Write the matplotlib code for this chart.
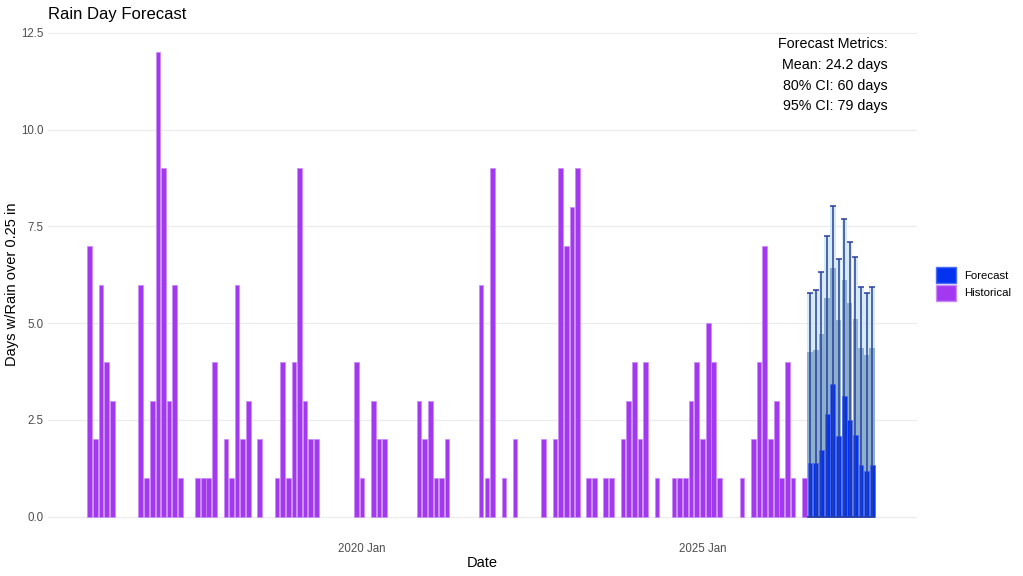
import matplotlib
matplotlib.use("Agg")
import matplotlib.pyplot as plt
import matplotlib.dates as mdates
from matplotlib.patches import Patch
import pandas as pd

plt.rcParams['font.family'] = ['Liberation Sans', 'DejaVu Sans']

# monthly rain days, Jan 2016 .. Jul 2026
hist_start = "2016-01-01"
hist_days = [7, 2, 6, 4, 3, 0, 0, 0, 0, 6, 1, 3,
             12, 9, 3, 6, 1, 0, 0, 1, 1, 1, 4, 0,
             2, 1, 6, 2, 3, 0, 2, 0, 0, 1, 4, 1,
             4, 9, 3, 2, 2, 0, 0, 0, 0, 0, 0, 4,
             1, 0, 3, 2, 2, 0, 0, 0, 0, 0, 3, 2,
             3, 1, 1, 2, 0, 0, 0, 0, 0, 6, 1, 9,
             0, 1, 0, 2, 0, 0, 0, 0, 2, 0, 2, 9,
             7, 8, 9, 0, 1, 1, 0, 1, 1, 0, 2, 3,
             4, 2, 4, 0, 1, 0, 0, 1, 1, 1, 3, 4,
             2, 5, 4, 1, 0, 0, 0, 1, 0, 2, 4, 7,
             2, 3, 1, 4, 1, 0, 1]

# forecast, Aug 2026 .. Jul 2027
fc_start = "2026-08-01"
fc_mean = [1.39, 1.40, 1.73, 2.66, 3.43, 2.09, 3.12, 2.51, 2.11, 1.34, 1.19, 1.34]
fc_upper80 = [4.25, 4.31, 4.72, 5.66, 6.43, 5.09, 6.12, 5.52, 5.12, 4.35, 4.19, 4.35]
fc_upper95 = [5.78, 5.86, 6.31, 7.24, 8.02, 6.67, 7.70, 7.10, 6.70, 5.94, 5.79, 5.94]

metrics_text = "Forecast Metrics:\nMean: 24.2 days\n80% CI: 60 days\n95% CI: 79 days"

hist_dates = pd.date_range(hist_start, periods=len(hist_days), freq="MS")
fc_dates = pd.date_range(fc_start, periods=len(fc_mean), freq="MS")

purple = '#a238ef'
blue = '#0433f0'

fig = plt.figure(figsize=(10.23, 5.76), dpi=100)
ax = fig.add_axes([48/1023, 36/576, 869/1023, 511/576])

# no outline on empty months
hist_lw = [0.5 if v > 0 else 0 for v in hist_days]
ax.bar(hist_dates, hist_days, width=25, color=purple, edgecolor='#c98af5', linewidth=hist_lw, zorder=2)

# CI bands then mean
ax.bar(fc_dates, fc_upper95, width=30, color='#b3dcf0', alpha=0.55, linewidth=0, zorder=2)
ax.bar(fc_dates, fc_upper80, width=30, color='#6f98bd', alpha=0.7, linewidth=0, zorder=3)
ax.bar(fc_dates, fc_mean, width=25, color=blue, edgecolor='#4a6cf5', linewidth=0.5, zorder=4)
ax.errorbar(fc_dates, fc_upper95, yerr=[fc_upper95, [0]*len(fc_upper95)], fmt='none',
            ecolor='#2b3f9e', elinewidth=1.1, capsize=2.5, capthick=1.1, zorder=5)

ax.set_ylim(-0.6, 12.6)
ax.set_xlim(pd.Timestamp("2015-05-22"), pd.Timestamp("2028-02-26"))
ax.set_yticks([0, 2.5, 5, 7.5, 10, 12.5])
ax.set_yticklabels(["0.0", "2.5", "5.0", "7.5", "10.0", "12.5"])
ax.xaxis.set_major_locator(mdates.YearLocator(5))
ax.xaxis.set_major_formatter(mdates.DateFormatter('%Y %b'))
ax.tick_params(axis='both', length=0, labelsize=8.3, colors='#4d4d4d')
ax.tick_params(axis='x', pad=2)
ax.tick_params(axis='y', pad=3)
ax.grid(axis='y', color='#ebebeb', linewidth=0.8, zorder=0)
for s in ax.spines.values():
    s.set_visible(False)
ax.set_axisbelow(True)

ax.set_xlabel("Date", fontsize=10.5, labelpad=1)
ax.set_ylabel("Days w/Rain over 0.25 in", fontsize=10.5)
ax.yaxis.set_label_coords(-29/869, 0.5)
fig.text(48/1023, 1 - 14/576, "Rain Day Forecast", fontsize=12, ha='left', va='center')

ax.text(888/1023, 1 - 37/576, metrics_text, transform=fig.transFigure, ha='right', va='top',
        fontsize=10.3, linespacing=1.62)

handles = [Patch(facecolor=blue, edgecolor='#4a6cf5', label='Forecast'),
           Patch(facecolor=purple, edgecolor='#c98af5', label='Historical')]
fig.legend(handles=handles, loc='center left', bbox_to_anchor=(930/1023, 1 - 284/576),
           frameon=False, fontsize=8.2, handlelength=1.75, handleheight=1.75, labelspacing=0.15,
           handletextpad=0.75, borderpad=0)

fig.savefig("out.png", dpi=100)
